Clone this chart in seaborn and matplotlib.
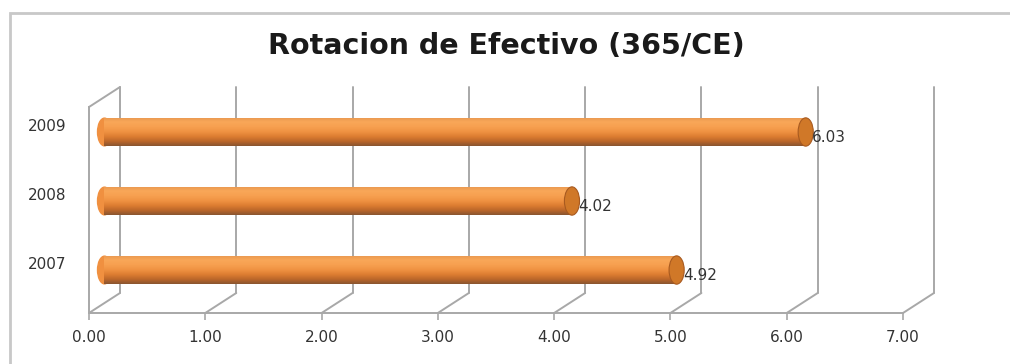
import numpy as np
import matplotlib.pyplot as plt
import seaborn as sns
from matplotlib.patches import Ellipse, Rectangle
from matplotlib.colors import LinearSegmentedColormap

# datos
years = ['2009', '2008', '2007']
valores = [6.03, 4.02, 4.92]
ticks = [0, 1, 2, 3, 4, 5, 6, 7]
titulo = 'Rotacion de Efectivo (365/CE)'

sns.set_theme(style='white')
plt.rcParams['font.family'] = ['DejaVu Sans']

fig = plt.figure(figsize=(10.1, 3.64), dpi=100)
ax = fig.add_axes([89 / 1010, 51 / 364, 814 / 1010, 206 / 364])

sns.barplot(x=valores, y=years, order=years, orient='h', color='#F79646',
            width=0.41, ax=ax, zorder=3)

# profundidad falsa 3d (en unidades de datos)
DX = 31 / 116.3
DY = -20 / 69
YB, YT = 2.478, -0.507
gris = '#A8A8A8'

cyl = LinearSegmentedColormap.from_list('cyl', ['#E89850', '#F9A758', '#F7A050', '#F09343',
                                                 '#DE7E32', '#BE682A', '#8A5530'])
grad = np.linspace(0, 1, 64).reshape(-1, 1)

for p in ax.patches:
    p.set_x(p.get_x() + DX / 2)
    p.set_y(p.get_y() + DY / 2)
    p.set_edgecolor('none')
    x0, y0, w, h = p.get_x(), p.get_y(), p.get_width(), p.get_height()
    # extremo izquierdo redondeado
    ax.add_patch(Ellipse((x0, y0 + h / 2), 0.12, h * 0.98, color='#F09040', zorder=2.9))
    im = ax.imshow(grad, cmap=cyl, aspect='auto', origin='upper',
                   extent=(x0, x0 + w, y0 + h, y0), zorder=3.1)
    im.set_clip_path(p)
    # tapa derecha
    ax.add_patch(Ellipse((x0 + w, y0 + h / 2), 0.13, h, facecolor='#D07828',
                         edgecolor='#A85A20', lw=0.8, zorder=3.5, clip_on=False))

# paredes y rejilla
for t in ticks[1:]:
    ax.plot([t + DX, t + DX], [YB + DY, YT + DY], color=gris, lw=1.4, clip_on=False, zorder=1)
for t in ticks:
    ax.plot([t, t + DX], [YB, YB + DY], color=gris, lw=1.4, clip_on=False, zorder=1)
ax.plot([DX, DX], [YB + DY, YT + DY], color=gris, lw=1.4, clip_on=False, zorder=1)
ax.plot([0, DX], [YT, YT + DY], color=gris, lw=1.4, clip_on=False, zorder=1)

# etiquetas de valor
for i, v in enumerate(valores):
    ax.text(v + 0.19, i - 0.07, f'{v:.2f}', ha='left', va='center',
            fontsize=11, color='#333333', zorder=4)

ax.set_xlim(0, 7)
ax.set_ylim(YB, YT)
ax.set_xticks(ticks, labels=[f'{t:.2f}' for t in ticks])
ax.set_yticks([i - 0.25 for i in range(len(years))], labels=years)
ax.set_xlabel('')
ax.set_ylabel('')
ax.tick_params(axis='x', length=5, width=1.2, color=gris, labelsize=11,
               labelcolor='#333333', pad=7, bottom=True)
ax.tick_params(axis='y', length=0, labelsize=11, labelcolor='#333333', pad=16)
for s in ['top', 'right']:
    ax.spines[s].set_visible(False)
for s in ['left', 'bottom']:
    ax.spines[s].set_color(gris)
    ax.spines[s].set_linewidth(1.4)
ax.set_facecolor('none')

fig.add_artist(Rectangle((10 / 1010, -0.1), 1.1, (364 - 13) / 364 + 0.1,
                         transform=fig.transFigure, fill=False,
                         edgecolor='#C8C8C8', lw=2))
fig.text(506 / 1010, 1 - 46 / 364, titulo, ha='center', va='center',
         fontsize=20.5, fontweight='bold', family='DejaVu Sans', color='#1A1A1A')

fig.savefig('out.png', dpi=100)
